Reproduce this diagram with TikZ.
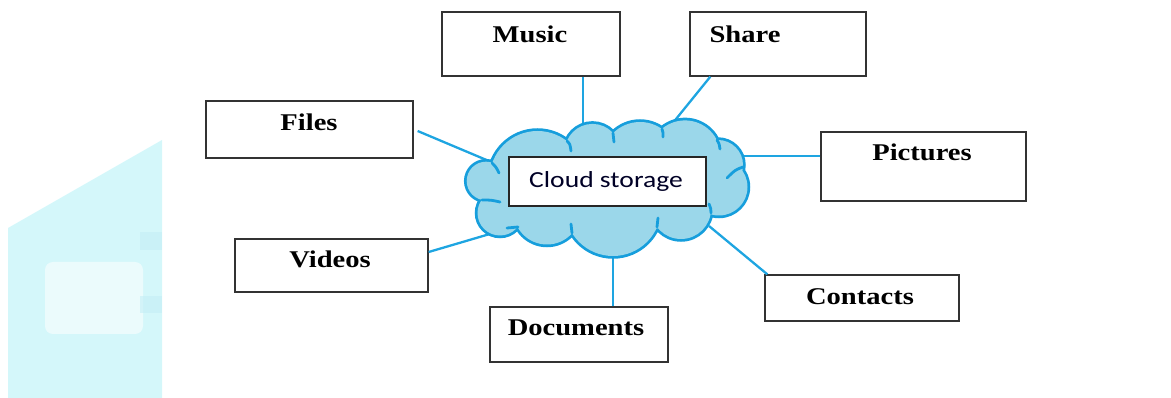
\documentclass[tikz,border=0pt]{standalone}
\usepackage{fontspec}
\usepackage{graphicx}
\setmainfont{Liberation Serif}
\newfontfamily\cloudfont{Carlito}
\usetikzlibrary{calc}
\definecolor{cloudfill}{RGB}{155,215,234}
\definecolor{cloudline}{RGB}{22,158,220}
\definecolor{linkblue}{RGB}{30,165,225}
\definecolor{wmcyan}{RGB}{212,247,250}
\definecolor{wmdark}{RGB}{196,238,246}
\begin{document}
\begin{tikzpicture}[x=1pt,y=-1pt,
  box/.style={draw=black!80, line width=1.3pt, fill=white, inner sep=0pt},
  lbl/.style={font=\fontsize{24}{28}\selectfont\bfseries, inner sep=0pt, anchor=base},
  link/.style={draw=linkblue, line width=2.3pt},
  curl/.style={draw=cloudline, line width=2.8pt, line cap=round},
]
\useasboundingbox (0,0) rectangle (1171,398);
% faint watermark
\fill[wmcyan] (8,228) -- (162,140) -- (162,398) -- (8,398) -- cycle;
\fill[white, opacity=0.55, rounded corners=8pt] (45,262) rectangle (143,334);
\fill[wmdark, opacity=0.6] (140,232) rectangle (162,250);
\fill[wmdark, opacity=0.6] (140,296) rectangle (162,313);

% boxes
\node[box, minimum width=178pt, minimum height=64pt] (music) at (531,44) {};
\node[box, minimum width=176pt, minimum height=64pt] (share) at (778,44) {};
\node[box, minimum width=207pt, minimum height=57pt] (files) at (309.5,129.5) {};
\node[box, minimum width=205pt, minimum height=69pt] (pictures) at (923.5,166.5) {};
\node[box, minimum width=193pt, minimum height=53pt] (videos) at (331.5,265.5) {};
\node[box, minimum width=178pt, minimum height=55pt] (documents) at (579,334.5) {};
\node[box, minimum width=194pt, minimum height=46pt] (contacts) at (862,298) {};

% labels
\node[lbl] (musict) at (530,43) {\scalebox{1.19}[1]{Music}};
\node[lbl] (sharet) at (745,43) {\scalebox{1.19}[1]{Share}};
\node[lbl] (filest) at (309,131) {\scalebox{1.19}[1]{Files}};
\node[lbl] (picturest) at (922,161) {\scalebox{1.19}[1]{Pictures}};
\node[lbl] (videost) at (330,268) {\scalebox{1.19}[1]{Videos}};
\node[lbl] (documentst) at (576,336) {\scalebox{1.19}[1]{Documents}};
\node[lbl] (contactst) at (860,305) {\scalebox{1.19}[1]{Contacts}};

% connector ends on the cloud
\coordinate (cMusic) at (583,128);
\coordinate (cShare) at (672,124);
\coordinate (cFiles) at (496,164);
\coordinate (cPictures) at (742,156);
\coordinate (cVideos) at (500,231);
\coordinate (cDocuments) at (613,254);
\coordinate (cContacts) at (709,226);

\draw[link] (music.south -| cMusic) -- (cMusic);
\draw[link] ([xshift=21pt]share.south west) -- (cShare);
\draw[link] ([xshift=4pt,yshift=-1.5pt]files.east) -- (cFiles);
\draw[link] (pictures.west |- cPictures) -- (cPictures);
\draw[link] ([yshift=13.5pt]videos.east) -- (cVideos);
\draw[link] (documents.north -| cDocuments) -- (cDocuments);
\draw[link] ([xshift=3pt]contacts.north west) -- (cContacts);

% cloud: outline of a union of circles
\def\cloudcircles{
  (537.5,179) circle[radius=48]
  (592.5,151.5) circle[radius=27.6]
  (640,160) circle[radius=38]
  (685,156) circle[radius=35.6]
  (718,165) circle[radius=25]
  (719,187) circle[radius=28.5]
  (681,209) circle[radius=30]
  (613,208) circle[radius=48]
  (547,211) circle[radius=33.5]
  (500,213) circle[radius=22.5]
  (486,181) circle[radius=19.3]
}
\draw[cloudline, line width=5.5pt] \cloudcircles;
\fill[cloudfill] \cloudcircles;
\fill[cloudfill] (610,185) ellipse[x radius=110, y radius=48];
% inner curls at the cusps
\draw[curl] (567,141) .. controls (570,144) .. (571,151);
\draw[curl] (613,133) .. controls (614,137) .. (614,142);
\draw[curl] (662,129) .. controls (663,132) .. (663,137);
\draw[curl] (717,140) .. controls (719,143) .. (720,149);
\draw[curl] (743,167) .. controls (735,170) .. (727,178);
\draw[curl] (711,213) .. controls (711,209) .. (709,204);
\draw[curl] (657,227) .. controls (658,223) .. (658,218);
\draw[curl] (572,233) .. controls (572,229) .. (571,224);
\draw[curl] (518,227) .. controls (513,228) .. (507,228);
\draw[curl] (482,200) .. controls (491,200) .. (500,202);
\draw[curl] (492,163) .. controls (496,167) .. (499,173);

% central label
\node[draw=black!85, line width=1.3pt, fill=white, minimum width=197pt, minimum height=49pt, inner sep=0pt] (cloudbox) at (607.5,181.5) {};
\node[font=\cloudfont\fontsize{23}{27}\selectfont, inner sep=0pt, anchor=base, text=black!85!blue] (cloudt) at (606,188) {\scalebox{1.2}[1]{Cloud storage}};
\end{tikzpicture}
\end{document}
